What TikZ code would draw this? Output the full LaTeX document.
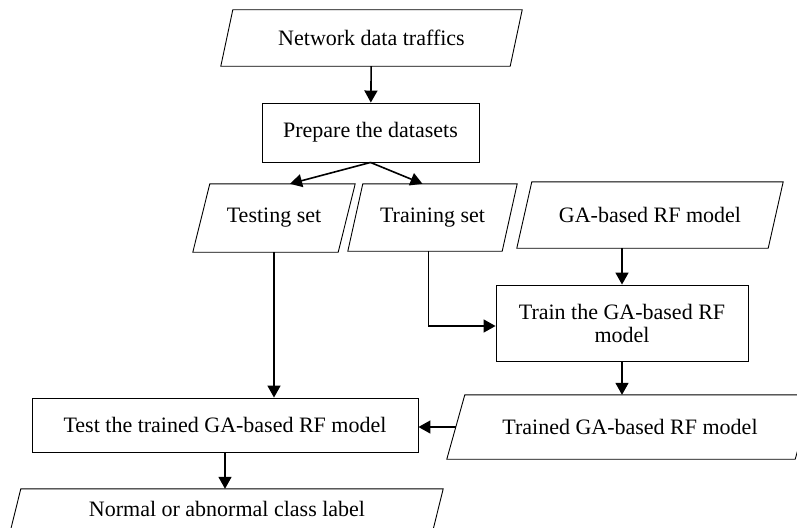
\documentclass[tikz,border=0pt]{standalone}
\usepackage{fontspec}
\setmainfont{Liberation Serif}
\usetikzlibrary{arrows.meta}

\begin{document}
\begin{tikzpicture}[x=1pt,y=-1pt,
        every node/.style={align=center,inner sep=2pt,
                           font=\fontsize{22}{23}\selectfont},
        stepbox/.style={rectangle,draw,line width=0.9pt},
        % slanted data box drawn round a plain rectangle node
        iobox/.style={rectangle,append after command={\pgfextra{
            \draw[line width=0.9pt]
              ([xshift=#1/2]\tikzlastnode.north west) -- ([xshift=#1/2]\tikzlastnode.north east)
              -- ([xshift=-#1/2]\tikzlastnode.south east) -- ([xshift=-#1/2]\tikzlastnode.south west)
              -- cycle;}}},
        iobox/.default=16pt,
        flow/.style={line width=1.6pt,-{Triangle[length=12pt,width=13pt]}}]
        \clip (0,0) rectangle (797,527);
        \node[iobox=12pt,minimum width=289pt,minimum height=56pt] (net) at (371.5,38) {Network data traffics};
        \node[stepbox,minimum width=217pt,minimum height=59pt] (prep) at (370.5,132.5) {Prepare the datasets};
        \node[iobox=17pt,minimum width=145pt,minimum height=68pt] (testing) at (274,218) {Testing set};
        \node[iobox=15pt,minimum width=154pt,minimum height=67pt] (training) at (432.5,217.5) {Training set};
        \node[iobox=15pt,minimum width=251pt,minimum height=66pt] (ga) at (650,215) {GA-based RF model};
        \node[stepbox,minimum width=252pt,minimum height=76pt] (train) at (622,323) {Train the GA-based RF\\model};
        \node[iobox=18pt,minimum width=348pt,minimum height=64pt] (trained) at (630,427) {Trained GA-based RF model};
        \node[stepbox,minimum width=386pt,minimum height=54pt] (test) at (225,425) {Test the trained GA-based RF model};
        \node[iobox=10pt,minimum width=422pt,minimum height=40pt] (normal) at (227,509) {Normal or abnormal class label};
        \draw[flow] (net) -- (prep);
        \draw[flow] (prep.south) -- ([xshift=16pt]testing.north);
        \draw[flow] (prep.south) -- ([xshift=-10pt]training.north);
        \draw[flow] (ga.south -| train.north) -- (train.north);
        \draw[flow] ([xshift=-4pt]training.south) |- ([yshift=-3pt]train.west);
        \draw[flow] (train) -- (train.south |- trained.north);
        \draw[flow] (trained.west) -- (trained.west -| test.east);
        \draw[flow] (testing) -- (testing.south |- test.north);
        \draw[flow] (test) -- (test.south |- normal.north);
\end{tikzpicture}
\end{document}
